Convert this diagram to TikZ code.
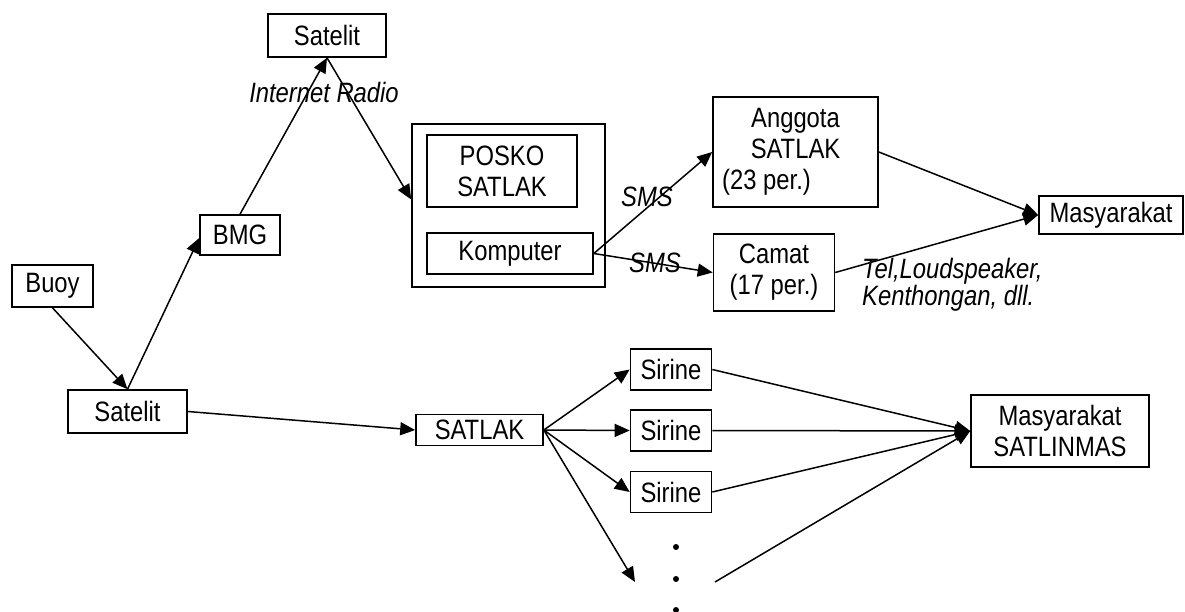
\documentclass[tikz,border=0pt]{standalone}
\usepackage{fontspec}
\setmainfont{Liberation Sans}[FakeStretch=0.85]
\usetikzlibrary{arrows.meta}
\begin{document}
\begin{tikzpicture}[x=1pt,y=-1pt, font=\fontsize{28}{31}\selectfont,
  box/.style={draw, line width=1.6pt, inner sep=0pt, align=center},
  conn/.style={line width=1.5pt, -{Triangle[length=15pt,width=13pt]}},
  lbl/.style={font=\fontsize{28}{31}\selectfont\itshape, inner sep=0pt}]
\useasboundingbox (0,0) rectangle (1185,612);
% top branch
\node[box, minimum width=118pt, minimum height=43pt] (sattop) at (327,35.5) {Satelit};
\node[box, minimum width=80pt, minimum height=40pt] (bmg) at (240,235) {BMG};
\node[box, minimum width=81pt, minimum height=42pt] (buoy) at (52.5,286) {Buoy};
\node[box, minimum width=119pt, minimum height=43pt] (satb) at (127.5,411.5) {Satelit};
\node[box, minimum width=193pt, minimum height=163pt] (posko) at (508.5,205.5) {};
\node[box, minimum width=150pt, minimum height=72pt] (psat) at (502,171) {POSKO\\SATLAK};
\node[box, minimum width=166pt, minimum height=41pt] (komp) at (510,253.5) {Komputer};
\node[box, minimum width=165pt, minimum height=110pt] (ang) at (795.5,152) {Anggota\\SATLAK\\(23 per.)\hspace*{58pt}};
\node[box, minimum width=121pt, minimum height=77pt] (camat) at (774,272.5) {Camat\\(17 per.)};
\node[box, minimum width=144pt, minimum height=38pt] (masy) at (1111,215) {Masyarakat};
% bottom branch
\node[box, minimum width=127pt, minimum height=31pt] (satlak) at (479.5,430) {SATLAK};
\node[box, minimum width=81pt, minimum height=41pt] (sir1) at (671,369.5) {Sirine};
\node[box, minimum width=81pt, minimum height=41pt] (sir2) at (671,430.5) {Sirine};
\node[box, minimum width=81pt, minimum height=41pt] (sir3) at (671,492) {Sirine};
\node[box, minimum width=178pt, minimum height=72pt] (msat) at (1060,431) {Masyarakat\\SATLINMAS};
% labels
\node[lbl] (lir) at (324,93) {Internet Radio};
\node[lbl] (sms1) at (647,197) {SMS};
\node[lbl] (sms2) at (655,263) {SMS};
\node[lbl, font=\fontsize{28}{26}\selectfont\itshape, align=left, anchor=west] (tel) at (862,285) {Tel,Loudspeaker,\\Kenthongan, dll.};
% dots
\fill (676,547) circle (3pt);
\fill (676,579) circle (3pt);
\fill (676,610) circle (3pt);
\coordinate (dtip) at (635,582);
\coordinate (dstart) at (715,582);
% connectors
\draw[conn] (buoy.south) -- (satb.north);
\draw[conn] (satb.north) -- ([yshift=-3pt]bmg.west);
\draw[conn] (bmg.north) -- (sattop.south);
\draw[conn] (sattop.south) -- ([yshift=6pt]posko.west);
\draw[conn] (komp.east) -- (ang.west);
\draw[conn] (komp.east) -- (camat.west);
\draw[conn] (ang.east) -- (masy.west);
\draw[conn] (camat.east) -- (masy.west);
\draw[conn] (satb.east) -- (satlak.west);
\draw[conn] (satlak.east) -- (sir1.west);
\draw[conn] (satlak.east) -- (sir2.west);
\draw[conn] (satlak.east) -- (sir3.west);
\draw[conn] (satlak.east) -- (dtip);
\draw[conn] (sir1.east) -- (msat.west);
\draw[conn] (sir2.east) -- (msat.west);
\draw[conn] (sir3.east) -- (msat.west);
\draw[conn] (dstart) -- (msat.west);
\end{tikzpicture}
\end{document}
